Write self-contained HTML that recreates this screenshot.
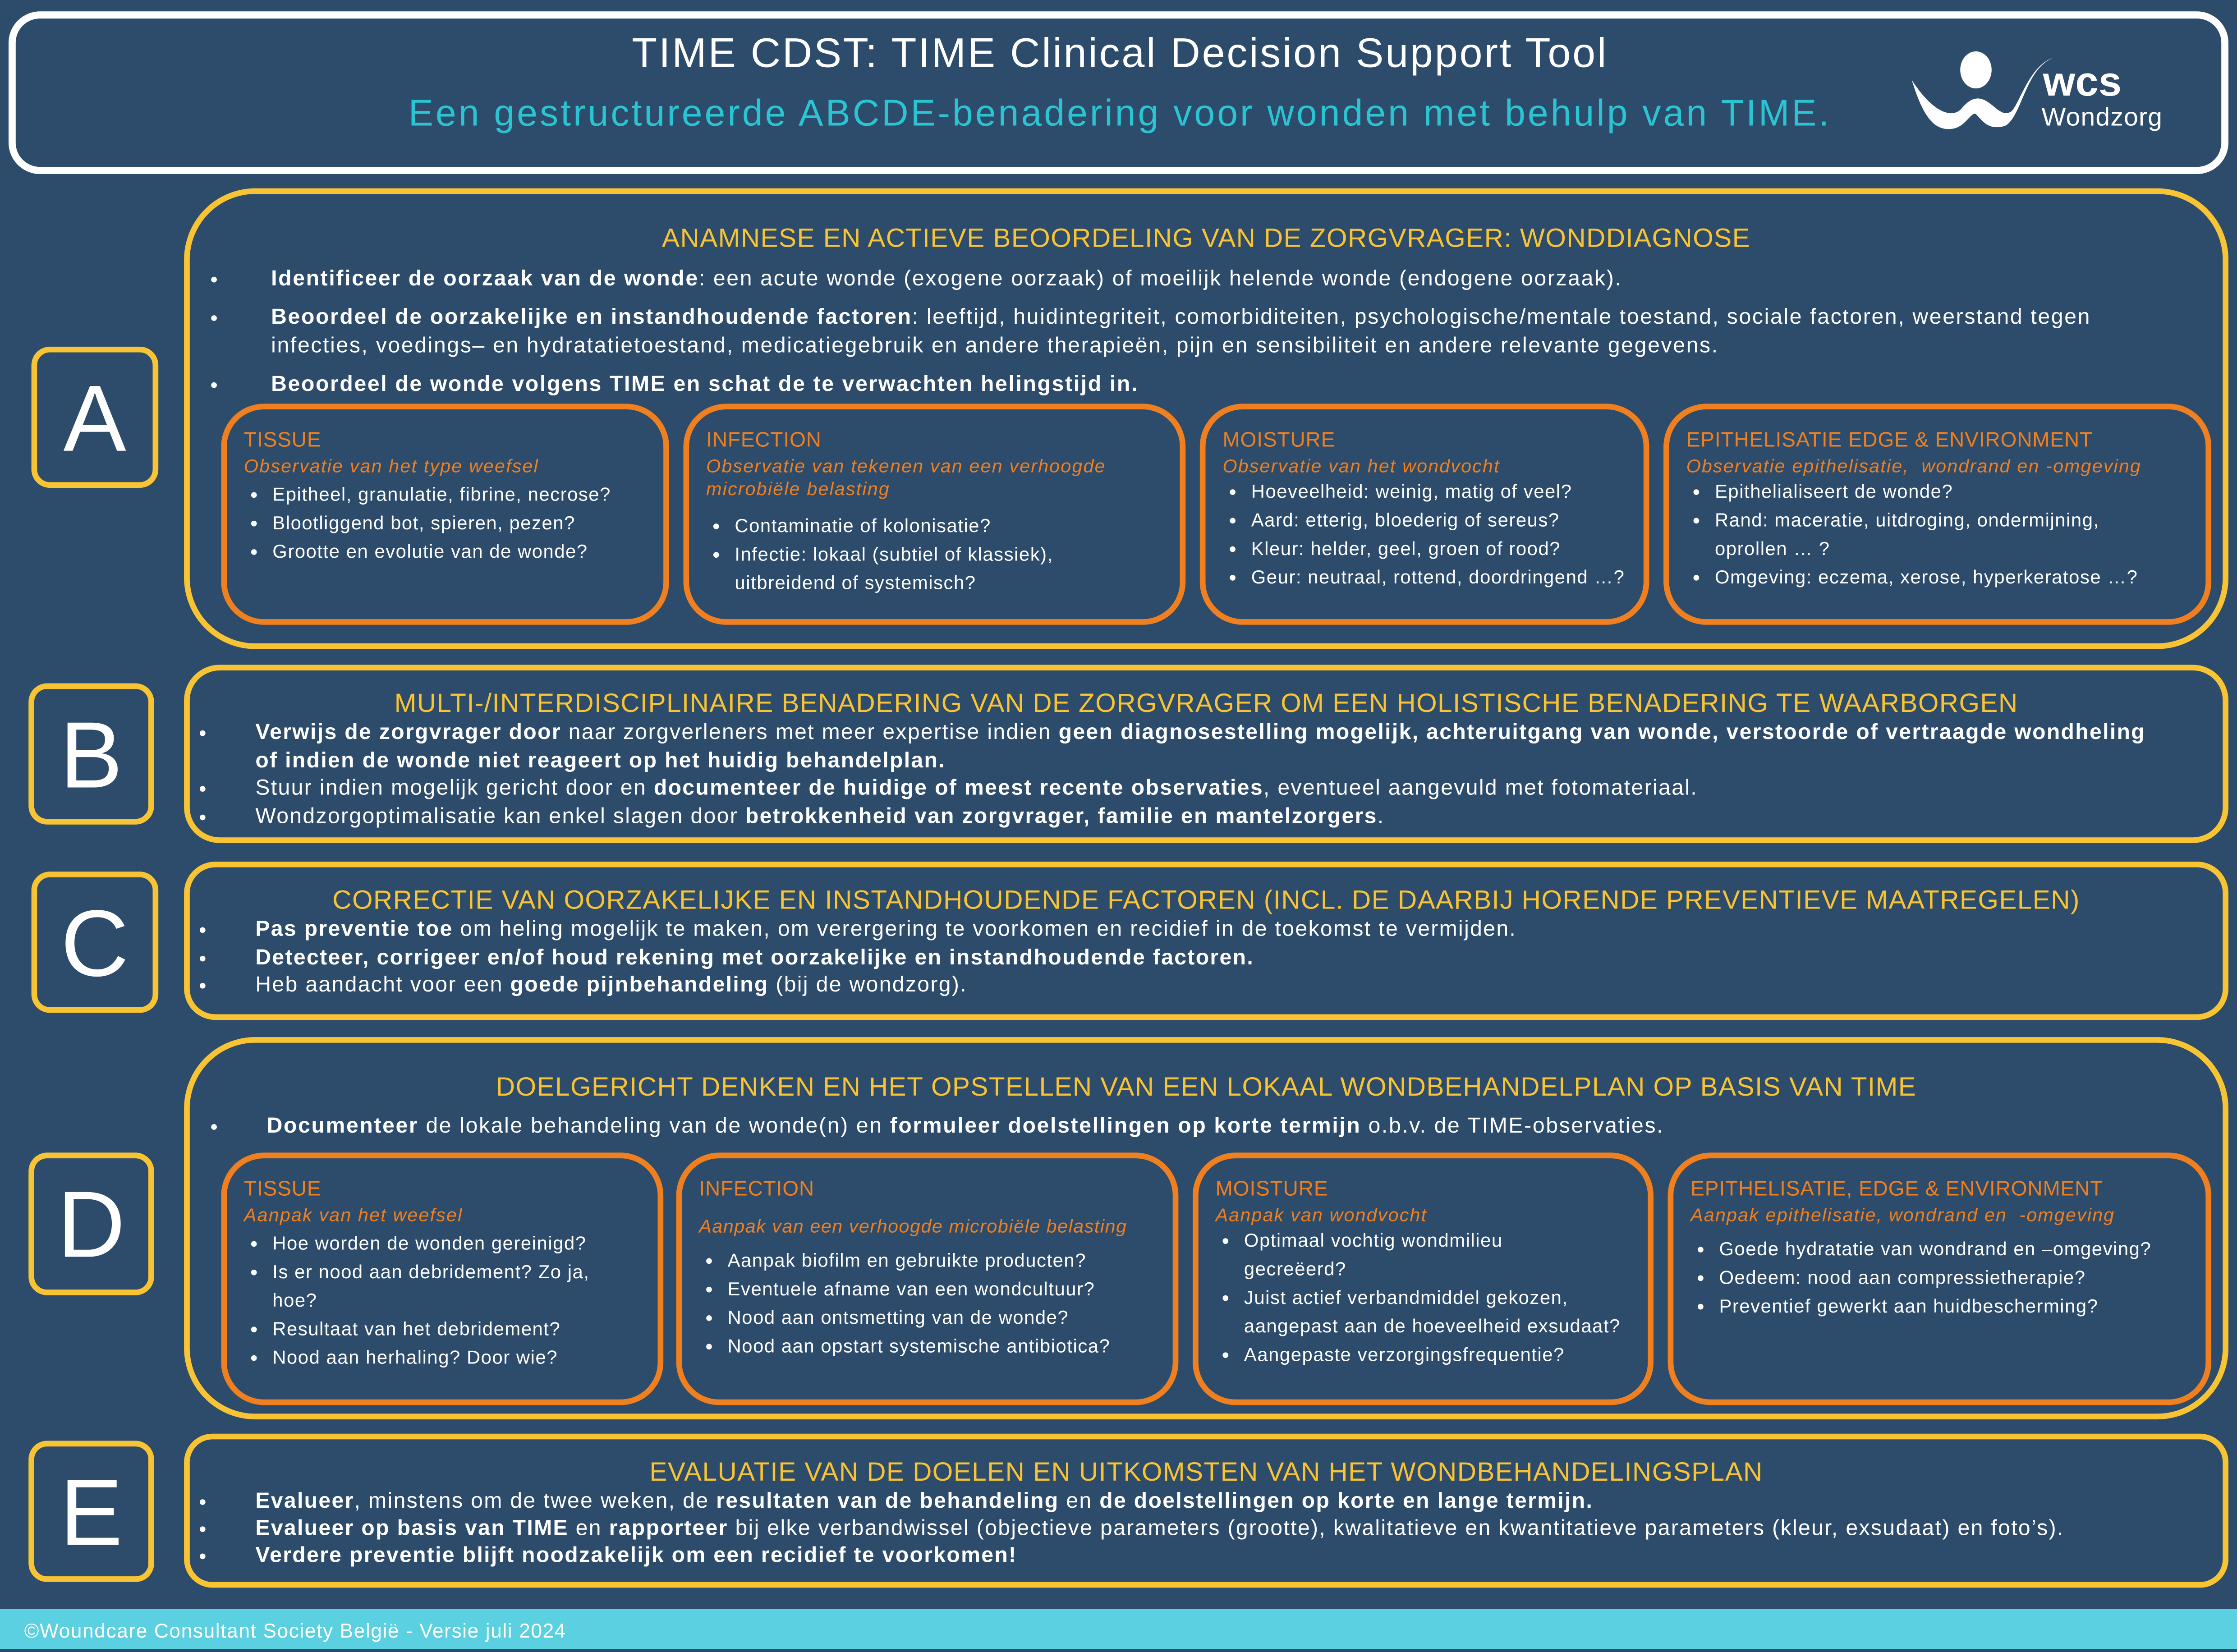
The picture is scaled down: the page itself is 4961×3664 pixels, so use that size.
<!DOCTYPE html>
<html><head><meta charset="utf-8">
<style>
html,body{margin:0;padding:0;background:#2d4b6b;}
body{width:4961px;height:3658px;overflow:hidden;position:relative;}
#s{position:absolute;left:0;top:0;width:1568px;height:1156px;transform:scale(3.1639);transform-origin:0 0;font-family:"Liberation Sans",sans-serif;color:#fff;letter-spacing:0.15px;}
.a{position:absolute;box-sizing:border-box;}
.hdr{left:6px;top:8px;width:1556px;height:114px;border:5px solid #fff;border-radius:22px;}
.lt{border:4px solid #f9c433;border-radius:13px;font-size:66px;text-align:center;color:#fff;}
.sec{border:4px solid #f9c433;left:129px;width:1433px;}
.sub{border:4px solid #f0801f;border-radius:30px;padding:12px 0 0 12px;font-size:13.2px;line-height:20px;letter-spacing:0.5px;}
.st{color:#f0801f;font-size:14.5px;letter-spacing:0.3px;}
.si{color:#f0801f;font-style:italic;font-size:13px;line-height:16px;letter-spacing:0.7px;}
.sub ul{margin:2px 0 0 0;padding-left:20px;}
.h{color:#f9c433;font-size:18.5px;text-align:center;position:absolute;left:0;right:0;letter-spacing:0.45px;}
ul{margin:0;padding-left:20px;}
li{margin:0;}
.sec ul{position:absolute;box-sizing:border-box;}
.bA{left:0;width:1410px;padding-left:30px;font-size:15.2px;line-height:20px;letter-spacing:0.85px;}
.bA li{padding-left:27px;}
.bB{left:0;width:1425px;padding-left:22px;font-size:15.2px;line-height:19.5px;letter-spacing:0.75px;}
.bB li{padding-left:24px;}
b{font-weight:bold;}
</style></head><body><div id="s">
<div class="a hdr"></div>
<div class="a" style="left:0;width:1570px;top:22px;text-align:center;font-size:29px;letter-spacing:1.2px">TIME CDST: TIME Clinical Decision Support Tool</div>
<div class="a" style="left:0;width:1570px;top:64px;text-align:center;font-size:26px;color:#2bc4d2;letter-spacing:1.6px">Een gestructureerde ABCDE-benadering voor wonden met behulp van TIME.</div>
<svg class="a" style="left:1338px;top:30px" width="100" height="66" viewBox="0 0 100 66">
<ellipse cx="47" cy="19" rx="11" ry="13" fill="#fff"/>
<path d="M2 26 C10 52 18 63 32 60 C40 58 44 48 47 50 C52 55 56 62 68 58 C80 50 82 16 103 10 C85 14 78 42 72 48 C66 52 62 46 56 42 C48 36 42 40 37 46 C30 54 16 48 2 26Z" fill="#fff"/>
</svg>
<div class="a" style="left:1432px;top:44px;font-size:29px;font-weight:bold;line-height:29px">wcs</div>
<div class="a" style="left:1431px;top:73px;font-size:18px;line-height:19px;letter-spacing:0.4px">Wondzorg</div>

<div class="a lt" style="left:22px;top:243px;width:89px;height:99px;line-height:92px">A</div>
<div class="a lt" style="left:20px;top:479px;width:88px;height:99px;line-height:92px">B</div>
<div class="a lt" style="left:22px;top:611px;width:89px;height:99px;line-height:92px">C</div>
<div class="a lt" style="left:20px;top:808px;width:88px;height:100px;line-height:92px">D</div>
<div class="a lt" style="left:20px;top:1010px;width:88px;height:99px;line-height:92px">E</div>

<!-- A -->
<div class="a sec" style="top:132px;height:323px;border-radius:50px;">
<div class="h" style="top:20px">ANAMNESE EN ACTIEVE BEOORDELING VAN DE ZORGVRAGER: WONDDIAGNOSE</div>
<ul class="bA" style="top:50px">
<li style="margin-bottom:7px"><b>Identificeer de oorzaak van de wonde</b>: een acute wonde (exogene oorzaak) of moeilijk helende wonde (endogene oorzaak).</li>
<li style="margin-bottom:7px"><b>Beoordeel de oorzakelijke en instandhoudende factoren</b>: leeftijd, huidintegriteit, comorbiditeiten, psychologische/mentale toestand, sociale factoren, weerstand tegen<br>infecties, voedings– en hydratatietoestand, medicatiegebruik en andere therapieën, pijn en sensibiliteit en andere relevante gegevens.</li>
<li><b>Beoordeel de wonde volgens TIME en schat de te verwachten helingstijd in.</b></li>
</ul>
</div>
<div class="a sub" style="left:155px;top:283px;width:314px;height:155px"><div class="st">TISSUE</div><div class="si">Observatie van het type weefsel</div><ul><li>Epitheel, granulatie, fibrine, necrose?</li><li>Blootliggend bot, spieren, pezen?</li><li>Grootte en evolutie van de wonde?</li></ul></div>
<div class="a sub" style="left:479px;top:283px;width:352px;height:155px"><div class="st">INFECTION</div><div class="si">Observatie van tekenen van een verhoogde microbiële belasting</div><ul style="margin-top:8px"><li>Contaminatie of kolonisatie?</li><li>Infectie: lokaal (subtiel of klassiek),<br>uitbreidend of systemisch?</li></ul></div>
<div class="a sub" style="left:841px;top:283px;width:315px;height:155px"><div class="st">MOISTURE</div><div class="si">Observatie van het wondvocht</div><ul style="margin-top:0"><li>Hoeveelheid: weinig, matig of veel?</li><li>Aard: etterig, bloederig of sereus?</li><li>Kleur: helder, geel, groen of rood?</li><li>Geur: neutraal, rottend, doordringend …?</li></ul></div>
<div class="a sub" style="left:1166px;top:283px;width:384px;height:155px"><div class="st">EPITHELISATIE EDGE &amp; ENVIRONMENT</div><div class="si">Observatie epithelisatie,&nbsp; wondrand en -omgeving</div><ul style="margin-top:0"><li>Epithelialiseert de wonde?</li><li>Rand: maceratie, uitdroging, ondermijning,<br>oprollen … ?</li><li>Omgeving: eczema, xerose, hyperkeratose …?</li></ul></div>

<!-- B -->
<div class="a sec" style="top:466px;height:125px;border-radius:25px;">
<div class="h" style="top:12px">MULTI-/INTERDISCIPLINAIRE BENADERING VAN DE ZORGVRAGER OM EEN HOLISTISCHE BENADERING TE WAARBORGEN</div>
<ul class="bB" style="top:34px">
<li><b>Verwijs de zorgvrager door</b> naar zorgverleners met meer expertise indien <b>geen diagnosestelling mogelijk, achteruitgang van wonde, verstoorde of vertraagde wondheling<br>of indien de wonde niet reageert op het huidig behandelplan.</b></li>
<li>Stuur indien mogelijk gericht door en <b>documenteer de huidige of meest recente observaties</b>, eventueel aangevuld met fotomateriaal.</li>
<li>Wondzorgoptimalisatie kan enkel slagen door <b>betrokkenheid van zorgvrager, familie en mantelzorgers</b>.</li>
</ul></div>

<!-- C -->
<div class="a sec" style="top:604px;height:111px;border-radius:22px;">
<div class="h" style="top:12px">CORRECTIE VAN OORZAKELIJKE EN INSTANDHOUDENDE FACTOREN (INCL. DE DAARBIJ HORENDE PREVENTIEVE MAATREGELEN)</div>
<ul class="bB" style="top:34px">
<li><b>Pas preventie toe</b> om heling mogelijk te maken, om verergering te voorkomen en recidief in de toekomst te vermijden.</li>
<li><b>Detecteer, corrigeer en/of houd rekening met oorzakelijke en instandhoudende factoren.</b></li>
<li>Heb aandacht voor een <b>goede pijnbehandeling</b> (bij de wondzorg).</li>
</ul></div>

<!-- D -->
<div class="a sec" style="top:727px;height:268px;border-radius:50px;">
<div class="h" style="top:20px">DOELGERICHT DENKEN EN HET OPSTELLEN VAN EEN LOKAAL WONDBEHANDELPLAN OP BASIS VAN TIME</div>
<ul class="bA" style="top:49px">
<li style="padding-left:24px"><b>Documenteer</b> de lokale behandeling van de wonde(n) en <b>formuleer doelstellingen op korte termijn</b> o.b.v. de TIME-observaties.</li>
</ul></div>
<div class="a sub" style="left:155px;top:808px;width:310px;height:177px"><div class="st">TISSUE</div><div class="si">Aanpak van het weefsel</div><ul><li>Hoe worden de wonden gereinigd?</li><li>Is er nood aan debridement? Zo ja,<br>hoe?</li><li>Resultaat van het debridement?</li><li>Nood aan herhaling? Door wie?</li></ul></div>
<div class="a sub" style="left:474px;top:808px;width:352px;height:177px"><div class="st">INFECTION</div><div class="si" style="margin-top:8px;letter-spacing:0.5px">Aanpak van een verhoogde microbiële belasting</div><ul style="margin-top:6px"><li>Aanpak biofilm en gebruikte producten?</li><li>Eventuele afname van een wondcultuur?</li><li>Nood aan ontsmetting van de wonde?</li><li>Nood aan opstart systemische antibiotica?</li></ul></div>
<div class="a sub" style="left:836px;top:808px;width:323px;height:177px"><div class="st">MOISTURE</div><div class="si">Aanpak van wondvocht</div><ul style="margin-top:0"><li>Optimaal vochtig wondmilieu<br>gecreëerd?</li><li>Juist actief verbandmiddel gekozen,<br>aangepast aan de hoeveelheid exsudaat?</li><li>Aangepaste verzorgingsfrequentie?</li></ul></div>
<div class="a sub" style="left:1169px;top:808px;width:381px;height:177px"><div class="st">EPITHELISATIE, EDGE &amp; ENVIRONMENT</div><div class="si">Aanpak epithelisatie, wondrand en&nbsp; -omgeving</div><ul style="margin-top:6px"><li>Goede hydratatie van wondrand en –omgeving?</li><li>Oedeem: nood aan compressietherapie?</li><li>Preventief gewerkt aan huidbescherming?</li></ul></div>

<!-- E -->
<div class="a sec" style="top:1005px;height:108px;border-radius:20px;">
<div class="h" style="top:12px">EVALUATIE VAN DE DOELEN EN UITKOMSTEN VAN HET WONDBEHANDELINGSPLAN</div>
<ul class="bB" style="top:34px;line-height:19px">
<li><b>Evalueer</b>, minstens om de twee weken, de <b>resultaten van de behandeling</b> en <b>de doelstellingen op korte en lange termijn.</b></li>
<li><b>Evalueer op basis van TIME</b> en <b>rapporteer</b> bij elke verbandwissel (objectieve parameters (grootte), kwalitatieve en kwantitatieve parameters (kleur, exsudaat) en foto’s).</li>
<li><b>Verdere preventie blijft noodzakelijk om een recidief te voorkomen!</b></li>
</ul></div>

<div class="a" style="left:0;top:1128px;width:1568px;height:28px;background:#5bd0e0;font-size:14px;line-height:30px;padding-left:17px;letter-spacing:0.5px">©Woundcare Consultant Society België - Versie juli 2024</div>
</div></body></html>
